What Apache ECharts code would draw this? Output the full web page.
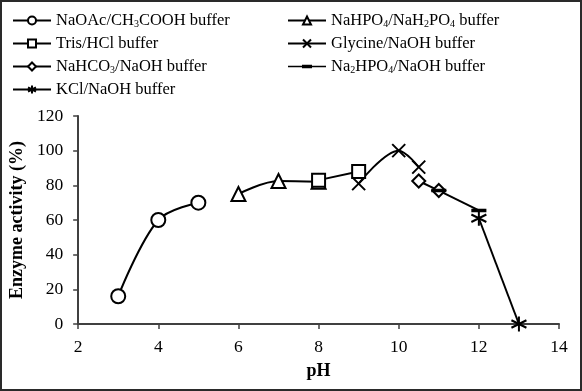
<!DOCTYPE html>
<html><head><meta charset="utf-8">
<script src="https://cdn.jsdelivr.net/npm/echarts@6/dist/echarts.min.js"></script>
<style>html,body{margin:0;padding:0;background:#fff}#c{width:582px;height:391px}</style>
</head><body><div id="c"></div>
<script>
// Data
const naoacPH = [3, 4, 5];
const naoacAct = [16, 60, 70];
const nahpo4PH = [6, 7, 8];
const nahpo4Act = [75, 82.5, 82];
const trisPH = [8, 9];
const trisAct = [83, 88];
const glycinePH = [9, 10, 10.5];
const glycineAct = [81, 100, 90.5];
const nahco3PH = [10.5, 11];
const nahco3Act = [82.5, 77];
const na2hpo4PH = [11, 12];
const na2hpo4Act = [77, 65.5];
const kclPH = [12, 13];
const kclAct = [61, 0];
const xTicks = [2, 4, 6, 8, 10, 12, 14];
const yTicks = [0, 20, 40, 60, 80, 100, 120];

const names = {
  naoac: 'NaOAc/CH{s|3}COOH buffer',
  nahpo4: 'NaHPO{s|4}/NaH{s|2}PO{s|4} buffer',
  tris: 'Tris/HCl buffer',
  glycine: 'Glycine/NaOH buffer',
  nahco3: 'NaHCO{s|3}/NaOH buffer',
  na2hpo4: 'Na{s|2}HPO{s|4}/NaOH buffer',
  kcl: 'KCl/NaOH buffer'
};

const FONT = '"Liberation Serif", "DejaVu Serif", serif';
const xSym = 'path://M0,0L10,10M10,0L0,10';
const starSym = 'path://M5,0L5,10M0.7,2.5L9.3,7.5M9.3,2.5L0.7,7.5';
const dashLegendIcon = 'path://M0,4.2H38V5.8H0Z M14,3.2H24V6.8H14Z M0,0H0.02V0.02H0Z M37.98,9.98H38V10H37.98Z';

function mk(name, xs, ys, symbol, size, z) {
  return {
    name: name, type: 'line', smooth: 0.35, z: z || 2,
    data: xs.map((x, i) => [x, ys[i]]),
    symbol: symbol, symbolSize: size, showSymbol: true,
    lineStyle: { color: '#000', width: 2 },
    itemStyle: { color: '#fff', borderColor: '#000', borderWidth: 2 },
    emphasis: { disabled: true }
  };
}

const series = [
  mk(names.naoac, naoacPH, naoacAct, 'circle', 14),
  mk(names.nahpo4, nahpo4PH, nahpo4Act, 'triangle', 14),
  mk(names.tris, trisPH, trisAct, 'rect', 13, 3),
  mk(names.glycine, glycinePH, glycineAct, xSym, 13, 3),
  mk(names.nahco3, nahco3PH, nahco3Act, 'diamond', 13, 3),
  mk(names.na2hpo4, na2hpo4PH, na2hpo4Act, 'rect', [13, 3], 3),
  mk(names.kcl, kclPH, kclAct, starSym, 15, 4)
];
series[5].itemStyle = { color: '#000', borderColor: '#000', borderWidth: 1 };

const legendText = {
  fontFamily: FONT, fontSize: 16.5, color: '#000',
  rich: { s: { fontFamily: FONT, fontSize: 10, color: '#000', verticalAlign: 'bottom', padding: [6, 0, 0, 0] } }
};
const legendCommon = {
  orient: 'vertical', itemWidth: 38, itemHeight: 10, itemGap: 6,
  textStyle: legendText, selectedMode: false
};

const chart = echarts.init(document.getElementById('c'), null, { renderer: 'canvas' });
chart.setOption({
  animation: false,
  backgroundColor: '#fff',
  graphic: [{ type: 'rect', shape: { x: 1, y: 1, width: 580, height: 389 }, style: { fill: 'none', stroke: '#2a2a2a', lineWidth: 2 }, z: 100 }],
  legend: [
    Object.assign({}, legendCommon, { left: 7, top: 7, data: [names.naoac, names.tris, names.nahco3, names.kcl] }),
    Object.assign({}, legendCommon, { left: 282, top: 7, data: [names.nahpo4, names.glycine,
      { name: names.na2hpo4, icon: dashLegendIcon, itemStyle: { color: '#000', borderWidth: 0 } }] })
  ],
  grid: { left: 78, right: 23, top: 116, bottom: 67, containLabel: false },
  xAxis: {
    type: 'value', min: xTicks[0], max: xTicks[xTicks.length - 1], interval: 2,
    name: 'pH', nameLocation: 'middle', nameGap: 38,
    nameTextStyle: { fontFamily: FONT, fontSize: 18, fontWeight: 'bold', color: '#000' },
    axisLine: { show: true, lineStyle: { color: '#404040', width: 2 } },
    axisTick: { show: true, inside: false, length: 5, lineStyle: { color: '#404040', width: 1.5 } },
    axisLabel: { fontFamily: FONT, fontSize: 17.5, color: '#000', margin: 14 },
    splitLine: { show: false }
  },
  yAxis: {
    type: 'value', min: yTicks[0], max: yTicks[yTicks.length - 1], interval: 20,
    name: 'Enzyme activity (%)', nameLocation: 'middle', nameGap: 42, nameRotate: 90,
    nameTextStyle: { fontFamily: FONT, fontSize: 18, fontWeight: 'bold', color: '#000' },
    axisLine: { show: true, lineStyle: { color: '#404040', width: 2 } },
    axisTick: { show: true, inside: false, length: 5, lineStyle: { color: '#404040', width: 1.5 } },
    axisLabel: { fontFamily: FONT, fontSize: 17.5, color: '#000', margin: 15 },
    splitLine: { show: false }
  },
  series: series
});
</script></body></html>
